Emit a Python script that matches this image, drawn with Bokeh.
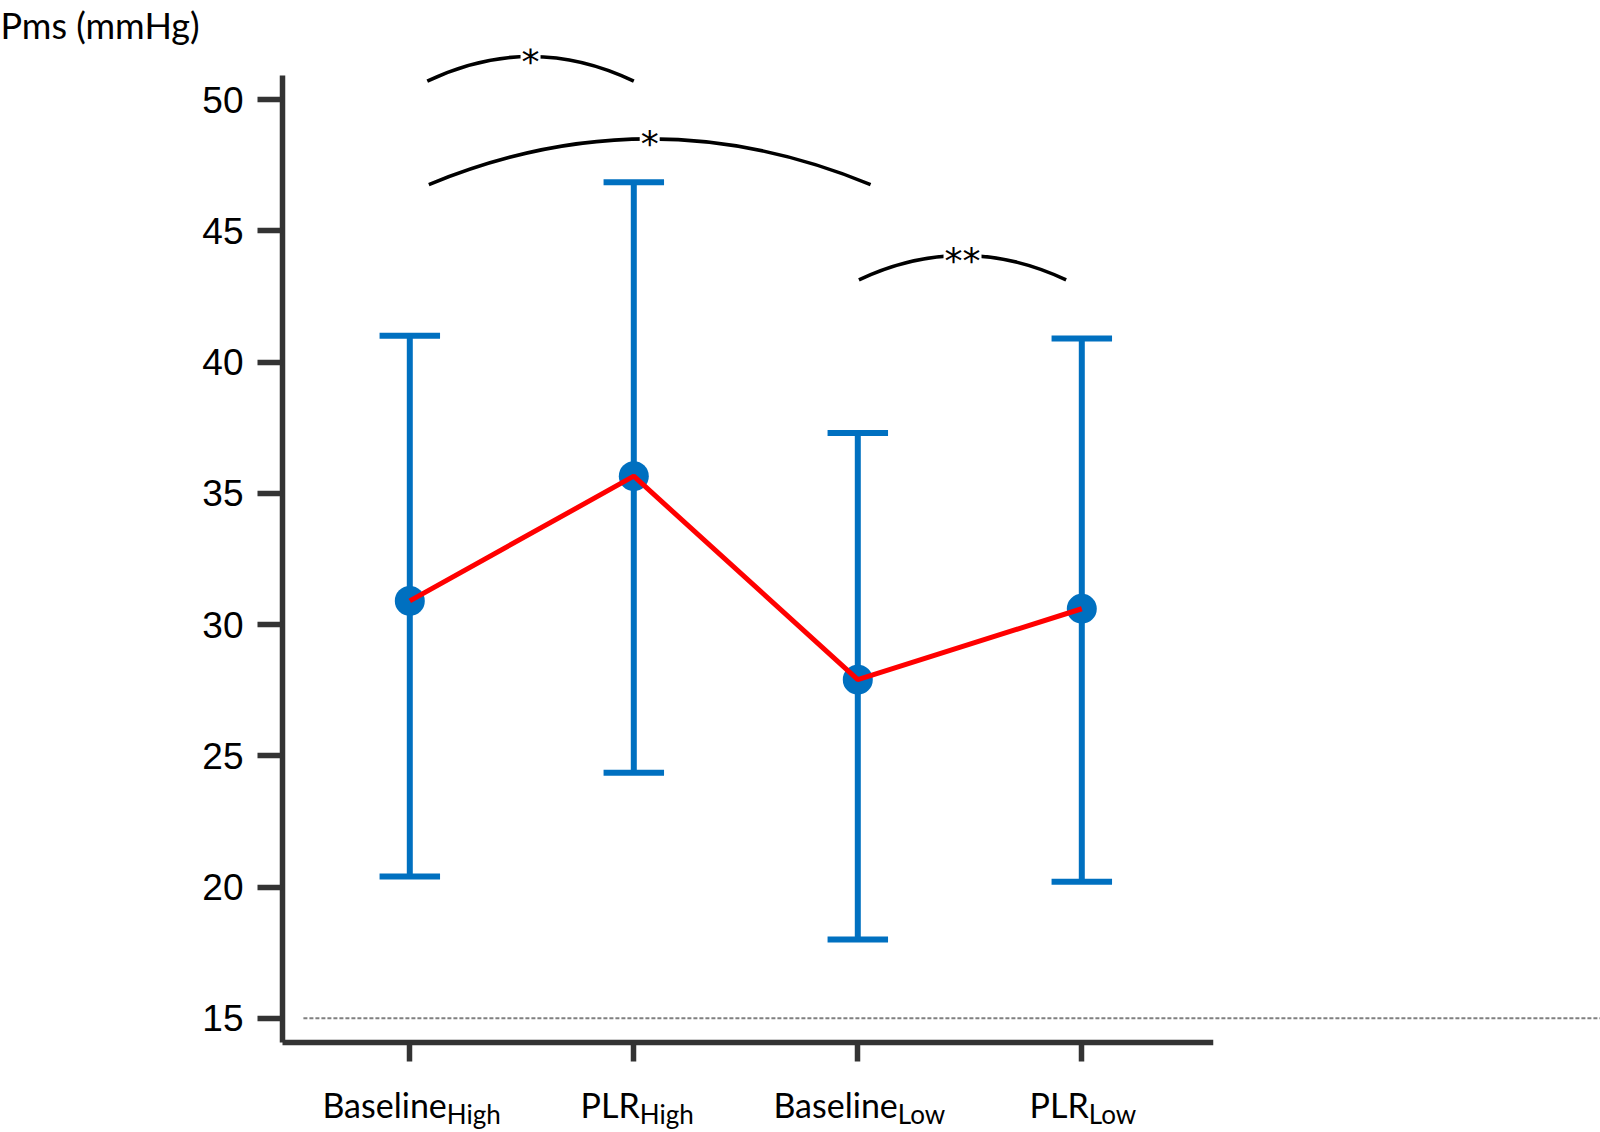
from bokeh.plotting import figure
from bokeh.models import Range1d, FixedTicker, LinearAxis
from bokeh.core.properties import value
from bokeh.embed import file_html
from bokeh.resources import INLINE

# ---- data ----
categories = ["Baseline", "PLR", "Baseline", "PLR"]
subscripts = ["High", "High", "Low", "Low"]
means = [30.9, 35.65, 27.9, 30.6]
upper = [41.0, 46.85, 37.3, 40.9]
lower = [20.4, 24.35, 18.0, 20.2]
y_ticks = [15, 20, 25, 30, 35, 40, 45, 50]
comp_labels = ["*", "*", "**"]

# ---- layout / style constants ----
W, H = 1600, 1132
FRAME_L, FRAME_T = 282, 48
PX_PER_X, PX_PER_Y = 224.0, 26.25
X0 = (FRAME_L - 409.3) / PX_PER_X
X1 = X0 + (W - FRAME_L) / PX_PER_X
Y1 = 50 + (99 - FRAME_T) / PX_PER_Y
Y0 = Y1 - (H - FRAME_T) / PX_PER_Y
X_AXIS_AT = 14.09
AXIS_COLOR = "#333333"
BLUE = "#0070C0"
RED = "#FF0000"
CAP_HALF = 0.135
# bracket geometry (left x, right x, end y, peak y)
brackets = [(0.078, 1.0, 50.70, 51.64), (0.085, 2.057, 46.76, 48.50), (2.005, 2.93, 43.13, 44.06)]
label_split = [37, 6, 40, 7]

xs = list(range(len(categories)))

p = figure(width=W, height=H, output_backend="svg", toolbar_location=None,
           x_range=Range1d(X0, X1), y_range=Range1d(Y0, Y1),
           x_axis_location=None, y_axis_location="left",
           min_border_left=FRAME_L, min_border_bottom=0,
           min_border_top=FRAME_T, min_border_right=0)
p.outline_line_color = None
p.background_fill_color = "white"
p.border_fill_color = "white"
p.grid.visible = False

# title (y-axis unit label)
p.title.text = "Pms (mmHg)"
p.title.align = "left"
p.title.offset = -FRAME_L
p.title.standoff = 0
p.title.text_font = "Lato"
p.title.text_font_size = "36px"
p.title.text_font_style = "normal"
p.title.text_color = "black"
p.title.vertical_align = "top"
p.title.text_line_height = 0.8

# y axis
ya = p.yaxis[0]
ya.ticker = FixedTicker(ticks=y_ticks)
ya.bounds = (X_AXIS_AT, 50.91)
ya.axis_line_width = 5.5
ya.axis_line_color = AXIS_COLOR
ya.major_tick_out = 25
ya.major_tick_in = 0
ya.major_tick_line_width = 5.5
ya.major_tick_line_color = AXIS_COLOR
ya.minor_tick_out = 0
ya.minor_tick_in = 0
ya.major_label_standoff = 14
ya.major_label_text_font = "Liberation Sans"
ya.major_label_text_font_size = "37px"
ya.major_label_text_color = "black"

# x axis: drawn at fixed location at the bottom, ticks pointing down
xa = LinearAxis(ticker=FixedTicker(ticks=xs), fixed_location=X_AXIS_AT,
                bounds=(X0, 3.575))
xa.axis_line_width = 5.5
xa.axis_line_color = AXIS_COLOR
xa.axis_line_cap = "square"
xa.major_tick_out = 0
xa.major_tick_in = 19
xa.major_tick_line_width = 5.5
xa.major_tick_line_color = AXIS_COLOR
xa.minor_tick_out = 0
xa.minor_tick_in = 0
xa.major_label_standoff = 0
xa.major_label_text_font_size = "0px"
xa.major_label_overrides = {i: "" for i in xs}
p.add_layout(xa, "above")

# dotted reference line at 15
p.segment(x0=[-0.475], y0=[y_ticks[0]], x1=[X1], y1=[y_ticks[0]],
          line_color="#808080", line_width=2, line_dash="4 2")

# error bars
p.segment(x0=xs, y0=lower, x1=xs, y1=upper, line_color=BLUE, line_width=6)
p.segment(x0=[x - CAP_HALF for x in xs], y0=upper, x1=[x + CAP_HALF for x in xs], y1=upper,
          line_color=BLUE, line_width=6)
p.segment(x0=[x - CAP_HALF for x in xs], y0=lower, x1=[x + CAP_HALF for x in xs], y1=lower,
          line_color=BLUE, line_width=6)

# means
p.scatter(x=xs, y=means, size=30, fill_color=BLUE, line_color=None)
p.line(x=xs, y=means, line_color=RED, line_width=5)

# significance brackets
for (bx0, bx1, by, bpk), lab in zip(brackets, comp_labels):
    cx = (bx0 + bx1) / 2
    p.quadratic(x0=[bx0], y0=[by], x1=[bx1], y1=[by], cx=[cx], cy=[2 * bpk - by],
                line_color="black", line_width=3.5)
    p.text(x=[cx], y=[bpk], text=[lab], text_font=value("DejaVu Sans"),
           text_font_size="36px", text_align="center", text_baseline="middle",
           y_offset=5, background_fill_color="white", text_color="black",
           padding=1)

# category labels with subscripts (below the x axis)
p.text(x=xs, y=[X_AXIS_AT] * len(xs), text=categories, x_offset=label_split, y_offset=62,
       text_font=value("Lato"), text_font_size="34px", text_align="right",
       text_baseline="alphabetic", text_color="black")
p.text(x=xs, y=[X_AXIS_AT] * len(xs), text=subscripts, x_offset=label_split, y_offset=72,
       text_font=value("Lato"), text_font_size="26px", text_align="left",
       text_baseline="alphabetic", text_color="black")

open("out.html", "w").write(file_html(p, INLINE))
